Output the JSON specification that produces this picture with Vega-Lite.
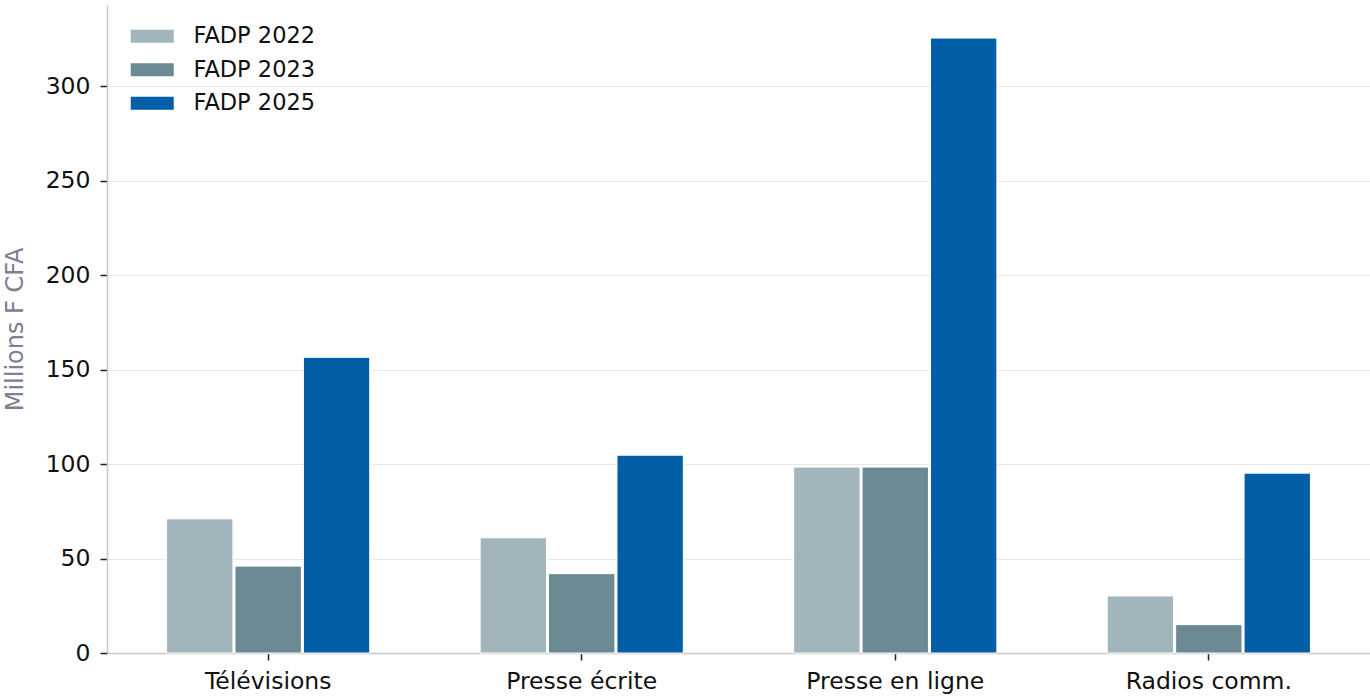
{
  "$schema": "https://vega.github.io/schema/vega-lite/v6.json",
  "autosize": "none",
  "width": 1263,
  "height": 648,
  "padding": {"left": 107, "top": 5, "right": 0, "bottom": 43},
  "background": "white",
  "config": {
    "font": "DejaVu Sans",
    "view": {"stroke": null}
  },
  "data": {
    "values": [
      {"categorie": "Télévisions", "serie": "FADP 2022", "valeur": 71},
      {"categorie": "Télévisions", "serie": "FADP 2023", "valeur": 46},
      {"categorie": "Télévisions", "serie": "FADP 2025", "valeur": 156.5},
      {"categorie": "Presse écrite", "serie": "FADP 2022", "valeur": 61},
      {"categorie": "Presse écrite", "serie": "FADP 2023", "valeur": 42},
      {"categorie": "Presse écrite", "serie": "FADP 2025", "valeur": 104.7},
      {"categorie": "Presse en ligne", "serie": "FADP 2022", "valeur": 98.4},
      {"categorie": "Presse en ligne", "serie": "FADP 2023", "valeur": 98.4},
      {"categorie": "Presse en ligne", "serie": "FADP 2025", "valeur": 325.5},
      {"categorie": "Radios comm.", "serie": "FADP 2022", "valeur": 30.2},
      {"categorie": "Radios comm.", "serie": "FADP 2023", "valeur": 15},
      {"categorie": "Radios comm.", "serie": "FADP 2025", "valeur": 95.2}
    ]
  },
  "mark": {"type": "bar", "stroke": "white", "strokeWidth": 1},
  "encoding": {
    "x": {
      "field": "categorie",
      "type": "nominal",
      "sort": null,
      "scale": {"paddingInner": 0.352, "paddingOuter": 0.19},
      "axis": {
        "title": null,
        "labelAngle": 0,
        "labelFontSize": 23.5,
        "labelColor": "#111111",
        "labelPadding": 9,
        "tickColor": "#222222",
        "tickSize": 7,
        "tickWidth": 1.5,
        "domainColor": "#c8c8c8",
        "domainWidth": 1.5
      }
    },
    "xOffset": {
      "field": "serie",
      "type": "nominal",
      "scale": {"paddingInner": 0.03}
    },
    "y": {
      "field": "valeur",
      "type": "quantitative",
      "scale": {"domain": [0, 343], "nice": false, "zero": true},
      "axis": {
        "title": "Millions F CFA",
        "titleFontSize": 24,
        "titleFontWeight": "normal",
        "titleColor": "#7c8090",
        "titlePadding": 18,
        "values": [0, 50, 100, 150, 200, 250, 300],
        "labelFontSize": 23.5,
        "labelColor": "#111111",
        "labelPadding": 10,
        "tickColor": "#222222",
        "tickSize": 7,
        "tickWidth": 1.5,
        "domainColor": "#c8c8c8",
        "domainWidth": 1.5,
        "grid": true,
        "gridColor": "#e8e8e8",
        "gridWidth": 1.2
      }
    },
    "color": {
      "field": "serie",
      "type": "nominal",
      "scale": {
        "domain": ["FADP 2022", "FADP 2023", "FADP 2025"],
        "range": ["#a2b5bc", "#6a8993", "#035ea8"]
      },
      "legend": {
        "title": null,
        "orient": "none",
        "legendX": 34,
        "legendY": 20,
        "symbolType": "M-2.15,-0.65H2.15V0.65H-2.15Z",
        "symbolSize": 400,
        "symbolStrokeWidth": 0,
        "symbolOpacity": 1,
        "labelFontSize": 22.5,
        "labelColor": "#111111",
        "labelOffset": 30,
        "rowPadding": 10.5
      }
    }
  }
}
